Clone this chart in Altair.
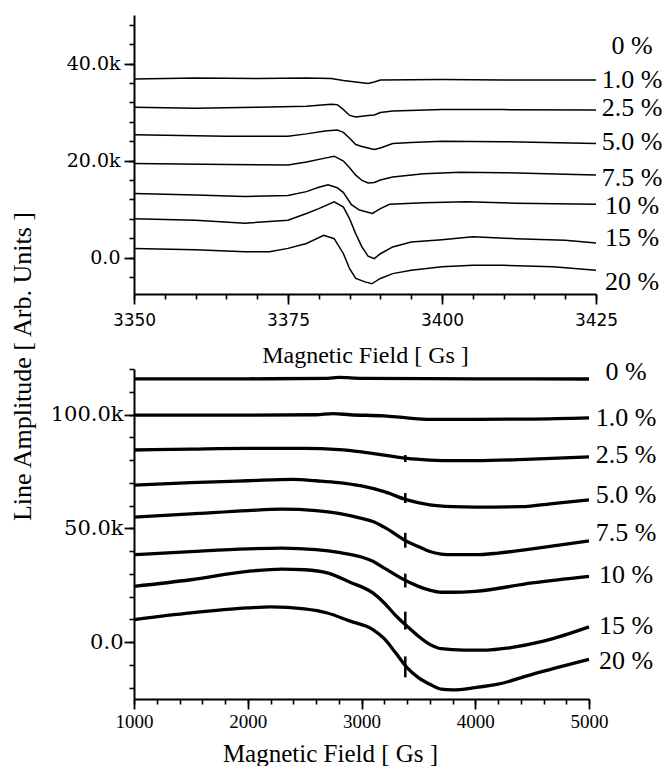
import altair as alt
import pandas as pd

# ---------------- top panel (field in Gs, amplitude in thousands) ----------------
t01_x = [3350, 3360, 3370, 3378, 3382, 3384, 3386, 3388, 3389, 3390, 3400, 3410, 3425]
t01_y = [36.8, 37.0, 36.9, 37.0, 36.9, 36.5, 36.2, 35.9, 36.2, 36.6, 36.7, 36.6, 36.6]

t25_x = [3350, 3360, 3370, 3378, 3382, 3383, 3384, 3385, 3386, 3388, 3389, 3390, 3392, 3400, 3410, 3425]
t25_y = [31.0, 30.8, 31.0, 31.2, 31.6, 31.5, 30.5, 29.3, 29.0, 29.3, 29.4, 29.9, 30.2, 30.5, 30.5, 30.4]

t50_x = [3350, 3365, 3375, 3378, 3381, 3383, 3384, 3385, 3386, 3387, 3389, 3390, 3392, 3395, 3400, 3410, 3425]
t50_y = [25.3, 25.0, 25.0, 25.5, 26.1, 26.3, 25.8, 24.6, 23.3, 22.9, 22.3, 22.6, 23.5, 23.7, 24.0, 23.9, 23.5]

t75_x = [3350, 3365, 3375, 3378, 3381, 3382.5, 3384, 3385, 3386, 3387, 3388, 3389, 3390, 3392, 3397, 3403, 3410, 3420, 3425]
t75_y = [19.4, 19.2, 19.1, 19.7, 20.5, 20.9, 19.9, 18.5, 17.0, 15.9, 15.4, 15.5, 16.0, 16.6, 17.3, 17.6, 17.5, 17.2, 17.0]

t10_x = [3350, 3360, 3368, 3375, 3378, 3380, 3381.5, 3383, 3384, 3385.3, 3386.6, 3388.7, 3390, 3391.5, 3397, 3404, 3412, 3425]
t10_y = [13.2, 12.9, 12.6, 12.8, 13.6, 14.5, 15.0, 14.4, 13.4, 10.9, 9.8, 9.1, 10.1, 11.0, 11.3, 11.5, 11.2, 11.0]

t15_x = [3350, 3360, 3368, 3375, 3378, 3380, 3382.5, 3384, 3385, 3386, 3387, 3388, 3389, 3390, 3392, 3395, 3400, 3405, 3412, 3420, 3425]
t15_y = [8.0, 7.7, 7.1, 7.7, 9.1, 10.1, 11.5, 10.4, 8.0, 4.9, 2.2, 0.3, -0.2, 0.8, 2.2, 3.2, 3.7, 4.3, 3.9, 3.6, 3.0]

t20_x = [3350, 3360, 3368, 3372, 3375, 3378, 3380.8, 3382.5, 3384, 3385, 3386, 3387.5, 3388.6, 3390, 3392, 3395, 3400, 3405, 3410, 3418, 3425]
t20_y = [1.9, 1.6, 1.2, 1.2, 1.9, 2.9, 4.6, 3.9, 0.8, -2.3, -4.3, -5.0, -5.4, -4.3, -3.3, -2.6, -1.9, -1.6, -1.6, -1.9, -2.6]

top_labels = ["0 %", "1.0 %", "2.5 %", "5.0 %", "7.5 %", "10 %", "15 %", "20 %"]
top_label_y = [43.6, 36.7, 30.8, 23.9, 16.4, 10.6, 4.0, -5.0]

top_x_major = [3350, 3375, 3400, 3425]
top_x_minor = list(range(3350, 3426, 5))
top_y_major = [0, 20, 40]
top_y_minor = list(range(-4, 49, 4))

# ---------------- bottom panel ----------------
b00_x = [1000, 2000, 2700, 2800, 3000, 4000, 5000]
b00_y = [115.7, 115.7, 115.9, 116.3, 115.9, 115.7, 115.6]

b01_x = [1000, 2000, 2600, 2750, 2900, 3200, 3400, 3600, 4000, 4500, 5000]
b01_y = [99.7, 99.7, 99.9, 100.4, 99.9, 99.4, 98.5, 97.9, 97.9, 98.0, 98.5]

b25_x = [1000, 1500, 2000, 2500, 2800, 3000, 3200, 3400, 3600, 3800, 4000, 4500, 5000]
b25_y = [84.4, 84.8, 85.1, 85.1, 84.6, 83.6, 82.2, 80.7, 80.0, 79.7, 79.7, 80.4, 81.4]

b50_x = [1000, 1500, 2000, 2400, 2600, 2800, 3000, 3200, 3400, 3600, 3800, 4000, 4400, 4700, 5000]
b50_y = [69.0, 70.1, 70.9, 71.5, 70.9, 70.1, 68.6, 66.1, 62.5, 60.3, 59.5, 59.3, 59.5, 61.0, 62.5]

b75_x = [1000, 1500, 2000, 2300, 2600, 2800, 3000, 3100, 3200, 3400, 3500, 3600, 3700, 3800, 4000, 4200, 4500, 5000]
b75_y = [54.9, 56.3, 57.8, 58.4, 57.8, 56.6, 54.4, 53.0, 50.5, 44.2, 42.0, 39.8, 38.7, 38.4, 38.4, 39.1, 41.0, 44.5]

b10_x = [1000, 1500, 2000, 2300, 2600, 2800, 3000, 3100, 3200, 3400, 3500, 3600, 3700, 3800, 4000, 4500, 5000]
b10_y = [38.4, 39.8, 41.0, 41.3, 40.6, 39.4, 37.4, 35.5, 32.5, 26.7, 24.5, 22.8, 21.9, 21.9, 22.3, 26.0, 28.9]

b15_x = [1000, 1500, 2000, 2300, 2500, 2700, 2900, 3100, 3200, 3300, 3400, 3500, 3600, 3700, 3900, 4100, 4300, 4600, 5000]
b15_y = [24.5, 27.4, 31.1, 32.1, 31.8, 30.4, 26.3, 21.6, 17.2, 11.7, 7.0, 2.6, -1.0, -2.9, -3.5, -3.5, -2.5, 0.4, 6.7]

b20_x = [1000, 1500, 2000, 2200, 2500, 2700, 2900, 3100, 3200, 3300, 3400, 3500, 3600, 3700, 3800, 4000, 4200, 4500, 5000]
b20_y = [9.9, 12.8, 15.0, 15.5, 14.6, 12.8, 9.2, 5.5, 1.5, -4.7, -11.2, -15.6, -18.5, -20.7, -21.0, -20.0, -18.5, -14.2, -7.6]

# small vertical markers on the bottom curves
mark_x = [3385, 3385, 3385, 3385, 3385, 3385]
mark_y1 = [82.2, 65.5, 48.0, 30.1, 13.4, -6.3]
mark_y2 = [79.1, 61.1, 41.5, 24.0, 5.5, -15.5]

bot_labels = ["0 %", "1.0 %", "2.5 %", "5.0 %", "7.5 %", "10 %", "15 %", "20 %"]
bot_label_y = [118.5, 98.4, 82.2, 64.7, 48.0, 29.6, 6.9, -8.5]

bot_x_major = [1000, 2000, 3000, 4000, 5000]
bot_x_minor = list(range(1000, 5001, 200))
bot_y_major = [0, 50, 100]
bot_y_minor = list(range(-20, 121, 10))

# ---------------- build tables ----------------
def table(curves):
    rows = []
    for name, xs, ys in curves:
        for i, (a, b) in enumerate(zip(xs, ys)):
            rows.append({"series": name, "field": a, "amp": b, "i": i})
    return pd.DataFrame(rows)

top_df = table([("1.0 %", t01_x, t01_y), ("2.5 %", t25_x, t25_y), ("5.0 %", t50_x, t50_y),
                ("7.5 %", t75_x, t75_y), ("10 %", t10_x, t10_y), ("15 %", t15_x, t15_y),
                ("20 %", t20_x, t20_y)])
bot_df = table([("0 %", b00_x, b00_y), ("1.0 %", b01_x, b01_y), ("2.5 %", b25_x, b25_y),
                ("5.0 %", b50_x, b50_y), ("7.5 %", b75_x, b75_y), ("10 %", b10_x, b10_y),
                ("15 %", b15_x, b15_y), ("20 %", b20_x, b20_y)])
marks_df = pd.DataFrame({"field": mark_x, "y1": mark_y1, "y2": mark_y2})
top_lab_df = pd.DataFrame({"label": top_labels, "amp": top_label_y})
bot_lab_df = pd.DataFrame({"label": bot_labels, "amp": bot_label_y})

LABEL_EXPR = "datum.value == 0 ? '0.0' : format(datum.value, '.1f') + 'k'"

def major_axis(orient, values, font, size, pad, title="", **kw):
    return alt.Axis(orient=orient, values=values, tickSize=10, tickWidth=1.8, tickColor="black",
                    domainColor="black", domainWidth=2, labelFont=font, labelFontSize=size,
                    labelColor="black", labelPadding=pad, labelFlush=False, labelOverlap=False,
                    grid=False, title=title, titleColor="black", titleFontWeight="normal", **kw)

def minor_axis(orient, values):
    return alt.Axis(orient=orient, values=values, tickSize=5, tickWidth=1.6, tickColor="black",
                    labels=False, domain=False, grid=False, title="")

# ---------------- top chart ----------------
TW, TH = 462, 279
tx = alt.Scale(domain=[3350, 3425], nice=False, zero=False)
ty = alt.Scale(domain=[-7.5, 50], nice=False, zero=False)

top_minor = alt.Chart(top_df).mark_line(opacity=0).encode(
    x=alt.X("field:Q", scale=tx, axis=minor_axis("bottom", top_x_minor)),
    y=alt.Y("amp:Q", scale=ty, axis=minor_axis("left", top_y_minor)),
    detail="series:N", order="i:Q")

top_lines = alt.Chart(top_df).mark_line(color="black", strokeWidth=1.5).encode(
    x=alt.X("field:Q", scale=tx, axis=major_axis("bottom", top_x_major, "DejaVu Sans", 17, 8,
            format="d", title="Magnetic Field [ Gs ]", titleFont="Liberation Serif",
            titleFontSize=24, titleY=68, titleBaseline="alphabetic")),
    y=alt.Y("amp:Q", scale=ty, axis=major_axis("left", top_y_major, "DejaVu Serif", 19, 4,
            labelExpr=LABEL_EXPR)),
    detail="series:N", order="i:Q")

top_text = alt.Chart(top_lab_df).mark_text(font="Liberation Serif", fontSize=26, color="black",
                                           align="center", baseline="middle").encode(
    x=alt.value(498), y=alt.Y("amp:Q", scale=ty, axis=None), text="label:N")

top = alt.layer(top_minor, top_lines, top_text).resolve_axis(x="independent", y="independent").properties(
    width=TW, height=TH)

# ---------------- bottom chart ----------------
BW, BH = 455, 330
bx = alt.Scale(domain=[1000, 5000], nice=False, zero=False)
by = alt.Scale(domain=[-25, 120], nice=False, zero=False)

bot_minor = alt.Chart(bot_df).mark_line(opacity=0).encode(
    x=alt.X("field:Q", scale=bx, axis=minor_axis("bottom", bot_x_minor)),
    y=alt.Y("amp:Q", scale=by, axis=minor_axis("left", bot_y_minor)),
    detail="series:N", order="i:Q")

bot_lines = alt.Chart(bot_df).mark_line(color="black", strokeWidth=3.3, interpolate="monotone").encode(
    x=alt.X("field:Q", scale=bx, axis=major_axis("bottom", bot_x_major, "Liberation Serif", 19, 3,
            format="d", title="Magnetic Field [ Gs ]", titleFont="Liberation Serif", titleFontSize=25,
            titleY=62, titleX=196, titleBaseline="alphabetic")),
    y=alt.Y("amp:Q", scale=by, axis=major_axis("left", bot_y_major, "DejaVu Serif", 21, 1,
            labelExpr=LABEL_EXPR, title="Line Amplitude [ Arb. Units ]",
            titleFont="Liberation Serif", titleFontSize=26, titleAngle=270,
            titleX=-104, titleY=-3, titleBaseline="alphabetic", titleAlign="center")),
    detail="series:N", order="i:Q")

bot_marks = alt.Chart(marks_df).mark_rule(color="black", strokeWidth=2.5).encode(
    x=alt.X("field:Q", scale=bx, axis=None), y=alt.Y("y1:Q", scale=by, axis=None), y2="y2:Q")

bot_text = alt.Chart(bot_lab_df).mark_text(font="Liberation Serif", fontSize=26, color="black",
                                           align="center", baseline="middle").encode(
    x=alt.value(492), y=alt.Y("amp:Q", scale=by, axis=None), text="label:N")

bottom = alt.layer(bot_minor, bot_lines, bot_marks, bot_text).resolve_axis(
    x="independent", y="independent").properties(width=BW, height=BH)

chart = alt.vconcat(top, bottom, spacing=75, bounds="flush").properties(
    padding={"left": 8, "top": 15, "right": 0, "bottom": 0},
    background="white",
).configure_view(strokeWidth=0)

chart.save("out.html", embed_options={"renderer": "svg", "actions": False})
